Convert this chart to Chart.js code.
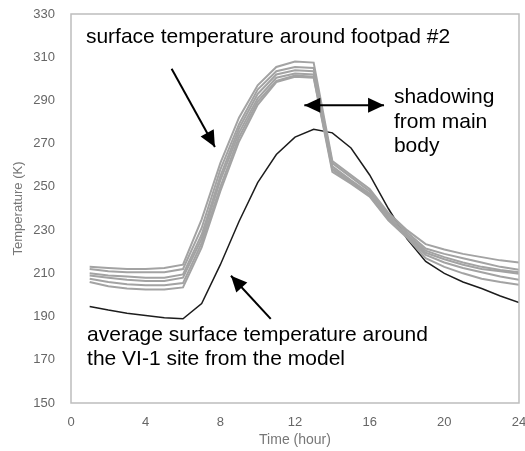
<!DOCTYPE html>
<html>
<head>
<meta charset="utf-8">
<script src="https://cdn.jsdelivr.net/npm/chart.js@4.4.0/dist/chart.umd.min.js"></script>
<style>
  html, body { margin: 0; padding: 0; background: #fff; }
  #wrap { width: 525px; height: 451px; }
</style>
</head>
<body>
<div id="wrap"><canvas id="temp-chart" width="525" height="451"></canvas></div>
<script>
const hours = [1, 2, 3, 4, 5, 6, 7, 8, 9, 10, 11, 12, 13, 14, 15, 16, 17, 18, 19, 20, 21, 22, 23, 24];

// surface temperature around footpad #2 (six gray curves)
const footpadA = [213, 212.5, 212, 212, 212.5, 214, 235, 261, 282, 297, 305.5, 308, 307.5, 262, 255.5, 249, 238, 230, 223.5, 221, 219, 217.5, 216, 215];
const footpadB = [212, 211, 210.5, 210.5, 210.5, 212, 231, 258, 279, 295, 303.5, 305.5, 305, 261, 254.5, 248, 237, 229, 221.5, 219, 217, 215, 213, 211.6];
const footpadC = [210, 209, 208.5, 208, 208, 209.5, 228, 255, 277, 293, 302, 304, 303.5, 259.5, 253, 247, 236, 228, 220.5, 217.5, 215, 213, 211.5, 210.5];
const footpadD = [209, 208, 207, 206.5, 206.5, 208, 226, 253, 275, 291, 300.5, 302.5, 302, 258.5, 252.5, 246.5, 235.5, 227.5, 219.5, 216.5, 214, 212, 211, 209.8];
const footpadE = [207.5, 206, 205, 204.5, 204.5, 205.5, 224, 250, 273, 289.5, 299, 301.5, 301, 258, 252, 246, 235, 227, 218.5, 215, 212.5, 210.5, 208.5, 207];
const footpadF = [206, 204, 203, 202.5, 202.5, 203.5, 222, 248, 271, 288, 298.5, 301, 300.5, 257, 251.5, 245.5, 234.5, 226.5, 217, 213, 210, 207.5, 206, 204.7];

// average surface temperature from the model (black curve)
const modelAvg = [194.7, 193, 191.5, 190.5, 189.5, 189, 196, 214, 234, 252, 265, 273, 276.7, 275, 268, 255.5, 240, 226, 215.5, 210, 206, 203, 199.5, 196.5];

const footpadSeries = [footpadA, footpadB, footpadC, footpadD, footpadE, footpadF];

// annotations, placed in data units
const notes = [
    { x: 0.8, y: 316.8, text: 'surface temperature around footpad #2' },
    { x: 17.3, y: 288.7, text: 'shadowing' },
    { x: 17.3, y: 277.2, text: 'from main' },
    { x: 17.3, y: 266.1, text: 'body' },
    { x: 0.86, y: 178.5, text: 'average surface temperature around' },
    { x: 0.86, y: 167.8, text: 'the VI-1 site from the model' }
];
const arrows = [
    { x1: 5.39, y1: 304.7, x2: 7.71, y2: 268.5, both: false },
    { x1: 16.77, y1: 287.8, x2: 12.5, y2: 287.8, both: true },
    { x1: 10.7, y1: 188.9, x2: 8.57, y2: 208.9, both: false }
];

const toPoints = (vals) => hours.map((h, i) => ({ x: h, y: vals[i] }));

const datasets = footpadSeries.map((vals, i) => ({
    label: 'footpad ' + (i + 1),
    data: toPoints(vals),
    borderColor: '#a3a3a3',
    borderWidth: 2,
    pointRadius: 0,
    tension: 0
}));
datasets.push({
    label: 'model',
    data: toPoints(modelAvg),
    borderColor: '#1c1c1c',
    borderWidth: 1.5,
    pointRadius: 0,
    tension: 0
});

const drawHead = (ctx, fx, fy, tx, ty) => {
    const ang = Math.atan2(ty - fy, tx - fx);
    const len = 16, half = 7.5;
    ctx.beginPath();
    ctx.moveTo(tx, ty);
    ctx.lineTo(tx - len * Math.cos(ang) + half * Math.sin(ang), ty - len * Math.sin(ang) - half * Math.cos(ang));
    ctx.lineTo(tx - len * Math.cos(ang) - half * Math.sin(ang), ty - len * Math.sin(ang) + half * Math.cos(ang));
    ctx.closePath();
    ctx.fill();
};

const framePlugin = {
    id: 'frame',
    afterDraw(chart) {
        const { ctx, chartArea: a, scales: { x, y } } = chart;
        ctx.save();
        ctx.strokeStyle = '#bdbdbd';
        ctx.lineWidth = 1.5;
        ctx.strokeRect(a.left, a.top, a.right - a.left, a.bottom - a.top);

        ctx.fillStyle = '#000';
        ctx.font = '21px "Liberation Sans", Arial, sans-serif';
        ctx.textBaseline = 'alphabetic';
        notes.forEach(n => ctx.fillText(n.text, x.getPixelForValue(n.x), y.getPixelForValue(n.y)));

        ctx.strokeStyle = '#000';
        ctx.lineWidth = 2;
        arrows.forEach(ar => {
            const x1 = x.getPixelForValue(ar.x1), y1 = y.getPixelForValue(ar.y1);
            const x2 = x.getPixelForValue(ar.x2), y2 = y.getPixelForValue(ar.y2);
            ctx.beginPath();
            ctx.moveTo(x1, y1);
            ctx.lineTo(x2, y2);
            ctx.stroke();
            drawHead(ctx, x1, y1, x2, y2);
            if (ar.both) drawHead(ctx, x2, y2, x1, y1);
        });
        ctx.restore();
    }
};

const tickFont = { family: '"Liberation Sans", Arial, sans-serif', size: 13 };

new Chart(document.getElementById('temp-chart'), {
    type: 'line',
    data: { datasets: datasets },
    options: {
        responsive: false,
        animation: false,
        layout: { padding: { top: 14, right: 6, left: 0, bottom: 0 } },
        plugins: {
            legend: { display: false },
            tooltip: { enabled: false }
        },
        scales: {
            x: {
                type: 'linear',
                min: 0,
                max: 24,
                border: { display: false },
                grid: { display: false, drawTicks: false },
                ticks: { stepSize: 4, color: '#666', font: tickFont, padding: 12, maxRotation: 0 },
                title: { display: true, text: 'Time (hour)', color: '#777', font: { family: tickFont.family, size: 14 }, padding: { top: 0, bottom: 2 } },
                afterFit: (scale) => { scale.height = 48; scale.paddingLeft = 0; scale.paddingRight = 0; }
            },
            y: {
                min: 150,
                max: 330,
                border: { display: false },
                grid: { display: false, drawTicks: false },
                ticks: { stepSize: 20, color: '#666', font: tickFont, padding: 16 },
                title: { display: true, text: 'Temperature (K)', color: '#777', font: { family: tickFont.family, size: 13 }, padding: { top: 11, bottom: 0 } },
                afterFit: (scale) => { scale.width = 71; scale.paddingTop = 0; scale.paddingBottom = 0; }
            }
        }
    },
    plugins: [framePlugin]
});
</script>
</body>
</html>
